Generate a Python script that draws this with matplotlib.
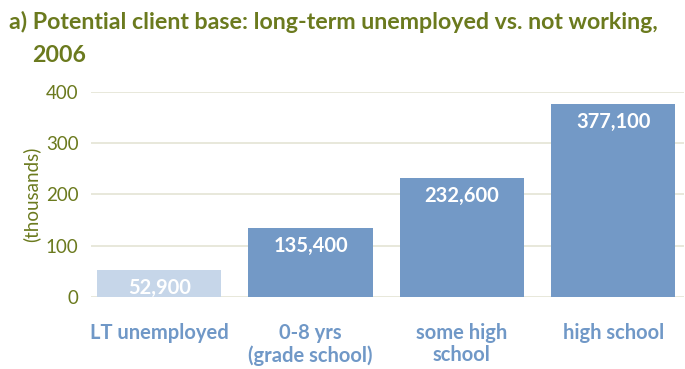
import matplotlib.pyplot as plt

categories = ["LT unemployed", "0-8 yrs\n(grade school)", "some high\nschool", "high school"]
values = [52.9, 135.4, 232.6, 377.1]
value_labels = ["52,900", "135,400", "232,600", "377,100"]
yticks = [0, 100, 200, 300, 400]

olive = "#6b7a1e"
blue = "#7399c6"
light_blue = "#c6d6e9"
label_blue = "#7098c7"

plt.rcParams['font.family'] = ['Lato', 'DejaVu Sans']

fig = plt.figure(figsize=(6.85, 3.69), dpi=100)
ax = fig.add_axes([0.133, 0.195, 0.866, 0.556])

colors = [light_blue] + [blue] * (len(values) - 1)
x = range(len(categories))
ax.bar(x, values, width=0.82, color=colors, zorder=3)

# value labels sit just inside the top of each bar
for i, (v, lab) in enumerate(zip(values, value_labels)):
    ax.annotate(lab, (i, v), xytext=(0, -13), textcoords="offset points",
                ha="center", va="center", color="white", fontsize=14.5,
                fontweight="bold", zorder=4)

ax.set_xlim(-0.45, 3.47)
ax.set_ylim(0, 400)
ax.set_yticks(yticks)
ax.yaxis.grid(True, color="#e4e4d4", linewidth=1.2, zorder=0)
ax.set_axisbelow(True)
for s in ax.spines.values():
    s.set_visible(False)
ax.tick_params(axis="both", length=0)
ax.tick_params(axis="y", labelcolor=olive, labelsize=13.5, pad=9)
ax.set_xticks(list(x))
ax.set_xticklabels(categories, color=label_blue, fontsize=14.5, fontweight="bold",
                   linespacing=1.1)
ax.tick_params(axis="x", pad=19)
ax.set_ylabel("(thousands)", color=olive, fontsize=13.5, labelpad=4)

fig.text(0.013, 0.94, "a) Potential client base: long-term unemployed vs. not working,",
         color=olive, fontsize=16.7, fontweight="bold", va="center")
fig.text(0.047, 0.85, "2006", color=olive, fontsize=16.7, fontweight="bold", va="center")

fig.savefig("out.png", dpi=100)
